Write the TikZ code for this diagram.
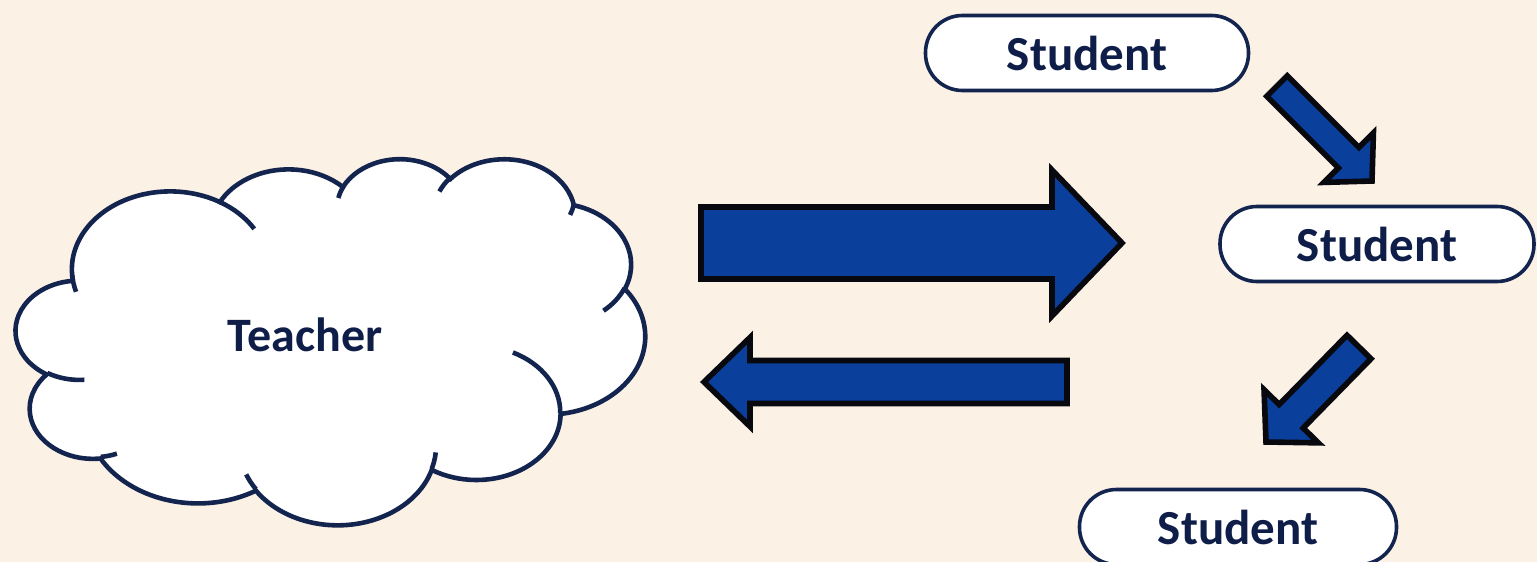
\documentclass[tikz,border=0pt]{standalone}
\usepackage{fontspec}
\setmainfont{Carlito}
\usetikzlibrary{calc}
\definecolor{bg}{HTML}{FCF1E5}
\definecolor{navy}{HTML}{13244F}
\definecolor{txt}{HTML}{0F1E48}
\definecolor{ablue}{HTML}{0A3F9C}
\definecolor{aline}{HTML}{08080F}
% precompute an OOXML arcTo as a TikZ parametric arc
\newcommand\cldprep[5]{%
  \pgfmathsetmacro\cldSt{atan2((#2)*sin(#4),(#3)*cos(#4))}%
  \pgfmathsetmacro\cldEn{atan2((#2)*sin((#4)+(#5)),(#3)*cos((#4)+(#5)))}%
  \pgfmathsetmacro\cldDe{\cldEn-\cldSt}%
  \pgfmathsetmacro\cldDe{\cldDe-360*round((\cldDe-(#5))/360)}%
  \expandafter\xdef\csname cldS#1\endcsname{\cldSt}%
  \expandafter\xdef\csname cldD#1\endcsname{\cldDe}%
  \expandafter\xdef\csname cldX#1\endcsname{#2}%
  \expandafter\xdef\csname cldY#1\endcsname{#3}%
}
\newcommand\blockarrow[5]{%
  \draw[barrow] ($(#1)!#3!90:(#2)$) -- ($(#2)!#5!(#1)!#3!-90:(#1)$)
    -- ($(#2)!#5!(#1)!#4!-90:(#1)$) -- (#2)
    -- ($(#2)!#5!(#1)!#4!90:(#1)$) -- ($(#2)!#5!(#1)!#3!90:(#1)$)
    -- ($(#1)!#3!-90:(#2)$) -- cycle;%
}
\begin{document}
\begin{tikzpicture}[x=0.5pt,y=-0.5pt,
  stud/.style={draw=navy, line width=1.8pt, fill=white, rounded corners=18.5pt,
    minimum height=37.5pt, inner sep=0pt, text=txt,
    font=\bfseries\fontsize{24.5}{28}\selectfont},
  teach/.style={text=txt, inner sep=0pt, font=\bfseries\fontsize{24}{28}\selectfont},
  barrow/.style={fill=ablue, draw=aline, line width=2.8pt, line join=miter},
  cloudst/.style={draw=navy, fill=white, line width=2.3pt},
  cloudcrease/.style={draw=navy, line width=2.3pt}]
\fill[bg] (0,0) rectangle (1537,562);
\useasboundingbox (0,0) rectangle (1537,562);
% cloud geometry (PowerPoint cloud), units of 1/100 of 43200
\cldprep{A}{67.53}{91.90}{-190.4875}{123.7805}
\cldprep{B}{53.33}{72.67}{-144.1024}{89.9452}
\cldprep{C}{43.65}{59.45}{-145.8079}{99.7230}
\cldprep{D}{48.57}{65.95}{-130.9861}{117.2417}
\cldprep{E}{53.33}{72.73}{-78.7089}{109.0269}
\cldprep{F}{67.75}{92.20}{-46.2673}{130.2690}
\cldprep{G}{57.85}{78.67}{0.6250}{114.0333}
\cldprep{H}{67.52}{92.15}{22.4516}{115.1726}
\cldprep{I}{77.20}{105.43}{66.2426}{75.7110}
\cldprep{J}{43.60}{59.18}{-274.9421}{146.7356}
\cldprep{K}{43.45}{59.45}{-246.8285}{152.5189}
\cldprep{L}{43.45}{59.45}{86.7420}{26.4295}
\cldprep{M}{43.60}{59.18}{73.6105}{11.4475}
\cldprep{N}{67.52}{92.15}{137.6242}{14.0811}
\cldprep{O}{67.52}{92.15}{6.4533}{15.9984}
\cldprep{P}{57.85}{78.67}{-70.2924}{70.9174}
\cldprep{Q}{53.33}{72.73}{30.3180}{27.7515}
\cldprep{R}{48.57}{65.95}{13.7443}{14.8589}
\cldprep{S}{48.57}{65.95}{-149.1815}{18.1954}
\cldprep{T}{43.65}{59.45}{-163.4943}{17.6864}
\cldprep{U}{67.53}{91.90}{-66.7070}{27.2405}
\cldprep{V}{67.53}{91.90}{157.6544}{16.7342}
\begin{scope}[shift={(16,158)}, x=0.7280pt, y=-0.4236pt]
  \draw[cloudst] (39.00,143.70)
    arc[x radius=\cldXA, y radius=\cldYA, start angle=\cldSA, delta angle=\cldDA]
    arc[x radius=\cldXB, y radius=\cldYB, start angle=\cldSB, delta angle=\cldDB]
    arc[x radius=\cldXC, y radius=\cldYC, start angle=\cldSC, delta angle=\cldDC]
    arc[x radius=\cldXD, y radius=\cldYD, start angle=\cldSD, delta angle=\cldDD]
    arc[x radius=\cldXE, y radius=\cldYE, start angle=\cldSE, delta angle=\cldDE]
    arc[x radius=\cldXF, y radius=\cldYF, start angle=\cldSF, delta angle=\cldDF]
    arc[x radius=\cldXG, y radius=\cldYG, start angle=\cldSG, delta angle=\cldDG]
    arc[x radius=\cldXH, y radius=\cldYH, start angle=\cldSH, delta angle=\cldDH]
    arc[x radius=\cldXI, y radius=\cldYI, start angle=\cldSI, delta angle=\cldDI]
    arc[x radius=\cldXJ, y radius=\cldYJ, start angle=\cldSJ, delta angle=\cldDJ]
    arc[x radius=\cldXK, y radius=\cldYK, start angle=\cldSK, delta angle=\cldDK]
    -- cycle;
  \draw[cloudcrease]
    (46.93,261.77) arc[x radius=\cldXL, y radius=\cldYL, start angle=\cldSL, delta angle=\cldDL]
    (69.28,348.99) arc[x radius=\cldXM, y radius=\cldYM, start angle=\cldSM, delta angle=\cldDM]
    (164.78,390.90) arc[x radius=\cldXN, y radius=\cldYN, start angle=\cldSN, delta angle=\cldDN]
    (288.27,347.51) arc[x radius=\cldXO, y radius=\cldYO, start angle=\cldSO, delta angle=\cldDO]
    (341.29,229.54) arc[x radius=\cldXP, y radius=\cldYP, start angle=\cldSP, delta angle=\cldDP]
    (417.98,153.54) arc[x radius=\cldXQ, y radius=\cldYQ, start angle=\cldSQ, delta angle=\cldDQ]
    (383.24,54.26) arc[x radius=\cldXR, y radius=\cldYR, start angle=\cldSR, delta angle=\cldDR]
    (290.78,39.52) arc[x radius=\cldXS, y radius=\cldYS, start angle=\cldSS, delta angle=\cldDS]
    (221.41,47.20) arc[x radius=\cldXT, y radius=\cldYT, start angle=\cldST, delta angle=\cldDT]
    (140.00,51.92) arc[x radius=\cldXU, y radius=\cldYU, start angle=\cldSU, delta angle=\cldDU]
    (41.27,157.89) arc[x radius=\cldXV, y radius=\cldYV, start angle=\cldSV, delta angle=\cldDV];
\end{scope}
\node[teach] (teacher) at (305,335) {Teacher};
% students
\node[stud, minimum width=161.5pt] (s1) at (1087,53) {Student};
\node[stud, minimum width=157pt] (s2) at (1377,244) {Student};
\node[stud, minimum width=158.5pt] (s3) at (1238,527) {Student};
% block arrows
\coordinate (ra) at (701,243);
\coordinate (rb) at (1122,243);
\coordinate (la) at (1067,382);
\coordinate (lb) at (704,382);
\coordinate (da) at (1277,86);
\coordinate (db) at (1372,181);
\coordinate (ea) at (1359,347);
\coordinate (eb) at (1266,442);
\blockarrow{ra}{rb}{18pt}{36.5pt}{35pt}
\blockarrow{la}{lb}{10.75pt}{22.25pt}{23pt}
\blockarrow{da}{db}{7.25pt}{17.5pt}{16.5pt}
\blockarrow{ea}{eb}{8.4pt}{19pt}{18pt}
\end{tikzpicture}
\end{document}
